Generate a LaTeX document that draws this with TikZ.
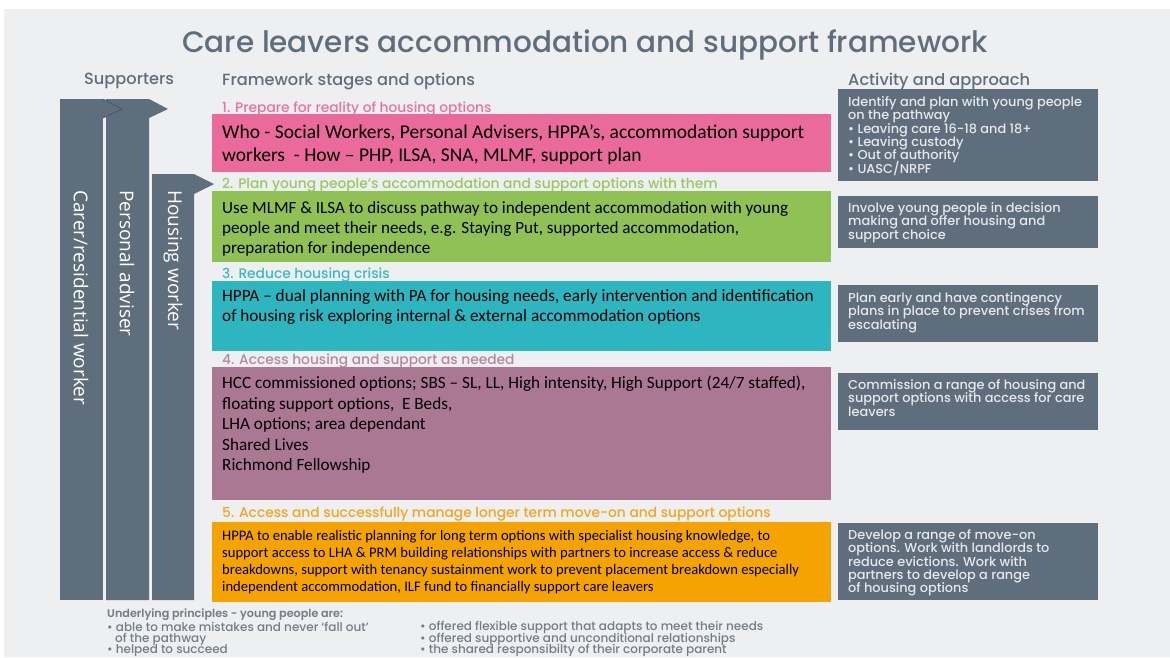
\documentclass[tikz,border=0pt]{standalone}
\usepackage{fontspec}
\setmainfont{Carlito}
\newfontfamily\headfont{Poppins}[UprightFont={Poppins Medium}, BoldFont={Poppins SemiBold}]
\newfontfamily\barfont{Open Sans}
\usepackage{tikz}
\definecolor{slate}{HTML}{5F6E7C}
\definecolor{slatedark}{HTML}{46525E}
\definecolor{panel}{HTML}{EEEFF1}
\definecolor{pinkbox}{HTML}{EA6B9B}
\definecolor{greenbox}{HTML}{8FC154}
\definecolor{tealbox}{HTML}{2DB6C0}
\definecolor{mauvebox}{HTML}{AA7893}
\definecolor{orangebox}{HTML}{F5A300}
\definecolor{pinklab}{HTML}{E8739F}
\definecolor{greenlab}{HTML}{97C862}
\definecolor{teallab}{HTML}{3BB8C4}
\definecolor{mauvelab}{HTML}{B4889F}
\definecolor{orangelab}{HTML}{F5A51C}
\definecolor{acttxt}{HTML}{E6E8EA}
\definecolor{notegrey}{HTML}{737D88}
\newcommand\actfont{\headfont\fontsize{12.9}{13.3}\selectfont\setlength{\lineskiplimit}{-20pt}}

\begin{document}
\begin{tikzpicture}[x=1pt,y=-1pt]
	\tikzstyle{stagebox}=[anchor=north west, minimum width=619pt, inner sep=0pt, outer sep=0pt]
	\tikzstyle{stagetext}=[anchor=north west, align=left, inner sep=0pt, text=black]
	\tikzstyle{stagelabel}=[anchor=west, inner sep=0pt, font=\headfont\fontsize{13.8}{16}\selectfont]
	\tikzstyle{actbox}=[anchor=north west, fill=slate, minimum width=260pt, inner sep=0pt, outer sep=0pt]
	\tikzstyle{acttext}=[anchor=north west, align=left, inner sep=0pt, text=acttxt, font=\actfont]
	\tikzstyle{bar}=[fill=slate]
	\tikzstyle{bartext}=[rotate=-90, anchor=west, inner sep=0pt, text=white, font=\barfont\fontsize{19}{22}\selectfont]
	\tikzstyle{heading}=[anchor=west, inner sep=0pt, text=slate, font=\headfont\fontsize{16.2}{18}\selectfont]
	\tikzstyle{note}=[anchor=west, inner sep=0pt, text=notegrey, font=\headfont\fontsize{12}{14}\selectfont]
	\useasboundingbox (0,0) rectangle (1170,657);
	\clip (0,0) rectangle (1170,657);
	\fill[white] (0,0) rectangle (1170,657);
	\fill[panel] (4,9) rectangle (1170,657);
	\node[text=slate, inner sep=0pt, font=\headfont\fontsize{29.5}{32}\selectfont] (title) at (585,45) {Care leavers accommodation and support framework};
	\node[heading] (hsup) at (84,81) {Supporters};
	\node[heading] (hstage) at (222,81) {Framework stages and options};
	\node[heading] (hact) at (848,81) {Activity and approach};
	\path[bar] (152,174) -- (194,174) -- (214,184) -- (194,194) -- (194,600) -- (152,600) -- cycle;
	\path[bar] (106,99) -- (149,99) -- (168,109) -- (149,118) -- (149,600) -- (106,600) -- cycle;
	\path[bar] (60,99) -- (103,99) -- (103,600) -- (60,600) -- cycle;
	\draw[bar, draw=slatedark, line width=.6pt] (103,99) -- (122,109) -- (103,118);
	\node[bartext] (carer) at (81,190) {Carer/residential worker};
	\node[bartext] (pa) at (127,190) {Personal adviser};
	\node[bartext] (hw) at (173,190) {Housing worker};
	\node[stagelabel, text=pinklab] (lab1) at (222,109) {1. Prepare for reality of housing options};
	\node[stagebox, fill=pinkbox, minimum height=58pt] (box1) at (212,114) {};
	\node[stagetext, font=\fontsize{19.5}{23}\selectfont] (txt1) at (222,124.5) {Who - Social Workers, Personal Advisers, HPPA’s, accommodation support\\workers\ \ - How – PHP, ILSA, SNA, MLMF, support plan};
	\node[stagelabel, text=greenlab] (lab2) at (222,185) {2. Plan young people’s accommodation and support options with them};
	\node[stagebox, fill=greenbox, minimum height=71pt] (box2) at (212,191) {};
	\node[stagetext, font=\fontsize{17.1}{20}\selectfont] (txt2) at (222,201) {Use MLMF \& ILSA to discuss pathway to independent accommodation with young\\people and meet their needs, e.g. Staying Put, supported accommodation,\\preparation for independence};
	\node[stagelabel, text=teallab] (lab3) at (222,275) {3. Reduce housing crisis};
	\node[stagebox, fill=tealbox, minimum height=70pt] (box3) at (212,281) {};
	\node[stagetext, font=\fontsize{17.2}{20}\selectfont] (txt3) at (222,289) {HPPA – dual planning with PA for housing needs, early intervention and identification\\of housing risk exploring internal \& external accommodation options};
	\node[stagelabel, text=mauvelab] (lab4) at (222,361) {4. Access housing and support as needed};
	\node[stagebox, fill=mauvebox, minimum height=133pt] (box4) at (212,367) {};
	\node[stagetext, font=\fontsize{17.2}{20.5}\selectfont] (txt4) at (222,376) {HCC commissioned options; SBS – SL, LL, High intensity, High Support (24/7 staffed),\\floating support options,\ \ E Beds,\\LHA options; area dependant\\Shared Lives\\Richmond Fellowship};
	\node[stagelabel, text=orangelab] (lab5) at (222,514) {5. Access and successfully manage longer term move-on and support options};
	\node[stagebox, fill=orangebox, minimum height=80pt] (box5) at (212,522) {};
	\node[stagetext, font=\fontsize{14.6}{17}\selectfont] (txt5) at (222,530.5) {HPPA to enable realistic planning for long term options with specialist housing knowledge, to\\support access to LHA \& PRM building relationships with partners to increase access \& reduce\\breakdowns, support with tenancy sustainment work to prevent placement breakdown especially\\independent accommodation, ILF fund to financially support care leavers};
	\node[actbox, minimum height=92pt] (act1) at (838,89) {};
	\node[acttext] (acttxt1) at (848,96.5) {Identify and plan with young people\\on the pathway\\• Leaving care 16-18 and 18+\\• Leaving custody\\• Out of authority\\• UASC/NRPF};
	\node[actbox, minimum height=52pt] (act2) at (838,196) {};
	\node[acttext] (acttxt2) at (848,202.5) {Involve young people in decision\\making and offer housing and\\support choice};
	\node[actbox, minimum height=57pt] (act3) at (838,285) {};
	\node[acttext] (acttxt3) at (848,292.5) {Plan early and have contingency\\plans in place to prevent crises from\\escalating};
	\node[actbox, minimum height=57pt] (act4) at (838,373) {};
	\node[acttext] (acttxt4) at (848,379.5) {Commission a range of housing and\\support options with access for care\\leavers};
	\node[actbox, minimum height=77pt] (act5) at (838,523) {};
	\node[acttext] (acttxt5) at (848,529.5) {Develop a range of move-on\\options. Work with landlords to\\reduce evictions. Work with\\partners to develop a range\\of housing options};
	\node[note, font=\headfont\bfseries\fontsize{11.2}{13}\selectfont] (under) at (107,614.5) {Underlying principles - young people are:};
	\node[note] (p1) at (107,627) {• able to make mistakes and never ‘fall out’};
	\node[note] (p1b) at (115,639) {of the pathway};
	\node[note] (p2) at (107,650.5) {• helped to succeed};
	\node[note] (p3) at (420,627) {• offered flexible support that adapts to meet their needs};
	\node[note] (p4) at (420,639) {• offered supportive and unconditional relationships};
	\node[note] (p5) at (420,650.5) {• the shared responsibilty of their corporate parent};
\end{tikzpicture}
\end{document}
